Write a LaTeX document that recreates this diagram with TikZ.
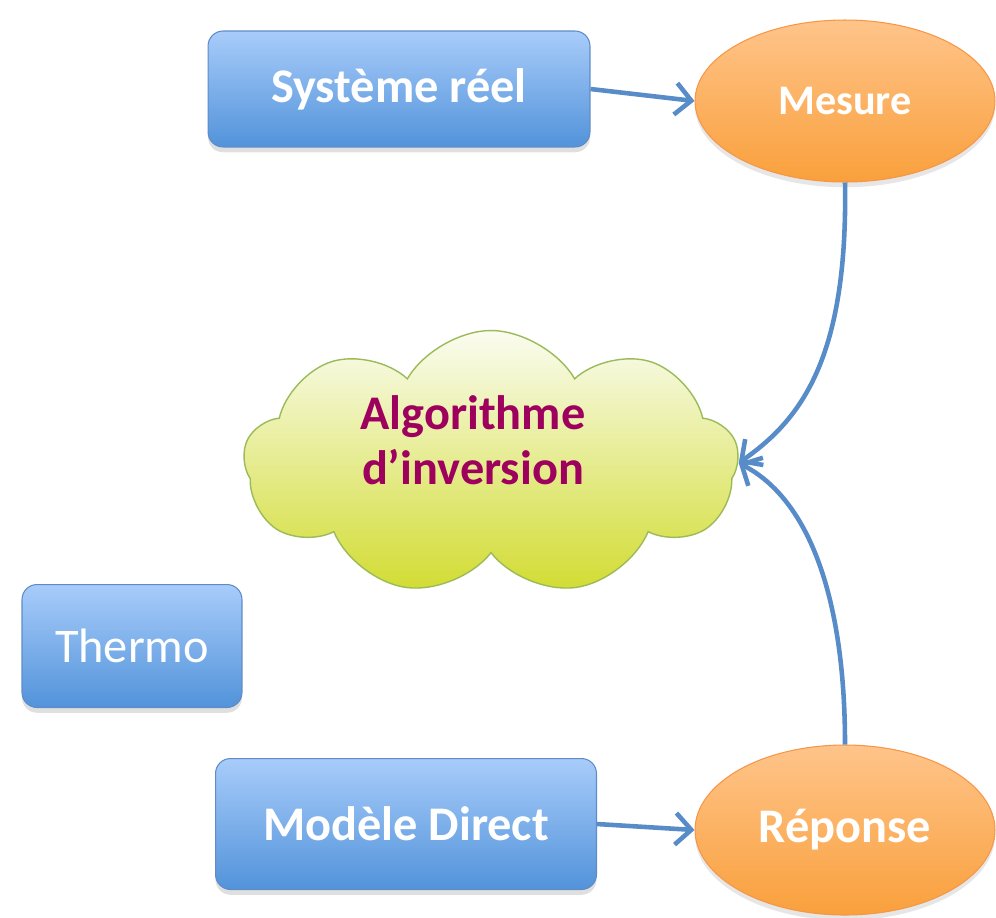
\documentclass[tikz,border=0pt]{standalone}
\usepackage{fontspec}
\setmainfont{Carlito}
\usetikzlibrary{shapes.geometric,shapes.symbols,arrows.meta,shadows}
\definecolor{boxtop}{RGB}{168,204,250}
\definecolor{boxbot}{RGB}{82,147,218}
\definecolor{boxline}{RGB}{95,140,200}
\definecolor{elltop}{RGB}{255,196,138}
\definecolor{ellbot}{RGB}{249,160,60}
\definecolor{ellline}{RGB}{247,150,70}
\definecolor{cldtop}{RGB}{250,252,240}
\definecolor{cldbot}{RGB}{210,220,50}
\definecolor{cldline}{RGB}{155,187,89}
\definecolor{cldtext}{RGB}{158,0,94}
\definecolor{arrowc}{RGB}{88,140,200}
\tikzset{
  bluebox/.style={rectangle, rounded corners=0.3cm, draw=boxline, line width=0.6pt,
    top color=boxtop, bottom color=boxbot, text=white, font=\bfseries\fontsize{27.5}{30}\selectfont,
    drop shadow={opacity=0.25, shadow xshift=0pt, shadow yshift=-3pt}},
  orangeell/.style={ellipse, draw=ellline, line width=0.6pt, minimum width=6cm,
    top color=elltop, bottom color=ellbot, text=white, inner sep=0pt,
    drop shadow={opacity=0.2, shadow xshift=0pt, shadow yshift=-3pt}},
  conn/.style={draw=arrowc, line width=2.6pt, -{Straight Barb[length=9pt,width=18pt,line width=2.6pt]}},
}
\begin{document}
\begin{tikzpicture}[x=0.02cm,y=-0.02cm]
\useasboundingbox (0,0) rectangle (996,917);
% boxes
\node[bluebox, minimum width=7.64cm, minimum height=2.32cm] (sys) at (399,89) {Système réel};
\node[bluebox, minimum width=4.4cm, minimum height=2.46cm, font=\fontsize{27.5}{30}\selectfont] (thermo) at (132,646) {Thermo};
\node[bluebox, minimum width=7.62cm, minimum height=2.62cm] (mod) at (406,824) {Modèle Direct};
% ellipses
\node[orangeell, minimum height=3.24cm, font=\bfseries\fontsize{24}{28}\selectfont] (mes) at (845,101) {Mesure};
\node[orangeell, minimum height=3.4cm, font=\bfseries\fontsize{27.5}{30}\selectfont] (rep) at (845,830) {Réponse};
% cloud
\node[cloud, cloud puffs=9, cloud puff arc=120, aspect=1.9, draw=cldline, line width=0.8pt,
  top color=cldtop, bottom color=cldbot, minimum width=9.9cm, minimum height=5.3cm] (alg) at (491,463) {};
\node[text=cldtext, align=center, font=\bfseries\fontsize{27.5}{31}\selectfont] (algtxt) at (473,440)
  {Algorithme\\d’inversion};
% connectors
\draw[conn] (sys.east) -- (mes.west);
\draw[conn] (mod.east) -- (rep.west);
\draw[conn] (mes.south) .. controls (848,360) and (800,420) .. (alg.east);
\draw[conn] (rep.north) .. controls (845,600) and (810,500) .. (alg.east);
\end{tikzpicture}
\end{document}
